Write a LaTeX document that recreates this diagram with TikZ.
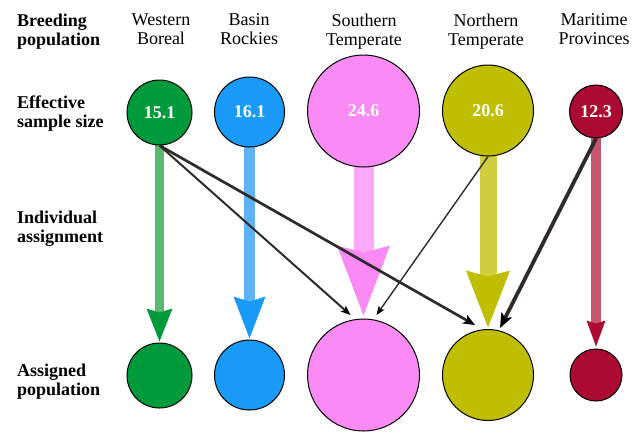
\documentclass[tikz,border=0pt]{standalone}
\usepackage{fontspec}
\setmainfont{Liberation Serif}
\usetikzlibrary{arrows.meta,calc,backgrounds}
\definecolor{wbc}{HTML}{009A3D}
\definecolor{brc}{HTML}{1A9AF8}
\definecolor{stc}{HTML}{FA8AF4}
\definecolor{ntc}{HTML}{BFBE00}
\definecolor{mpc}{HTML}{AB0A33}
\definecolor{wbs}{HTML}{5DB870}
\definecolor{brs}{HTML}{5DB2FA}
\definecolor{sts}{HTML}{FDA9F7}
\definecolor{nts}{HTML}{D0CD3F}
\definecolor{mps}{HTML}{C5566E}
\definecolor{linec}{HTML}{302A2A}
\begin{document}
\begin{tikzpicture}[x=1bp,y=-1bp,
  pop/.style={circle,draw=black,line width=1bp,inner sep=0pt,minimum size=#1},
  num/.style={text=white,font=\fontsize{18bp}{19bp}\selectfont\bfseries},
  rowlab/.style={anchor=north west,align=left,inner sep=0pt,font=\fontsize{18bp}{19bp}\selectfont\bfseries},
  colhead/.style={anchor=north,align=center,inner sep=0pt,font=\fontsize{18bp}{19bp}\selectfont},
  assign/.style={draw=linec}
]
\useasboundingbox (0,0) rectangle (641,431);

% row labels
\node[rowlab] (lab1) at (17,13.6) {Breeding\\population};
\node[rowlab] (lab2) at (17,95.6) {Effective\\sample size};
\node[rowlab] (lab3) at (17,210.6) {Individual\\assignment};
\node[rowlab] (lab4) at (17,363.6) {Assigned\\population};

% column headers
\node[colhead] (h1) at (161,13.8) {Western\\Boreal};
\node[colhead] (h2) at (249,13.8) {Basin\\Rockies};
\node[colhead] (h3) at (364,13.8) {Southern\\Temperate};
\node[colhead] (h4) at (486,13.8) {Northern\\Temperate};
\node[colhead] (h5) at (594,13.8) {Maritime\\Provinces};

% breeding populations
\node[pop=65bp,fill=wbc,num] (wbT) at (159.5,112.5) {15.1};
\node[pop=70bp,fill=brc,num] (brT) at (249.5,112) {16.1};
\node[pop=112bp,fill=stc,num] (stT) at (363.5,111) {24.6};
\node[pop=91bp,fill=ntc,num] (ntT) at (488,110.5) {20.6};
\node[pop=53bp,fill=mpc,num] (mpT) at (596,111.5) {12.3};

% assigned populations
\node[pop=65bp,fill=wbc] (wbB) at (159.5,375.5) {};
\node[pop=70bp,fill=brc] (brB) at (249.5,375) {};
\node[pop=112bp,fill=stc] (stB) at (363.5,375) {};
\node[pop=91bp,fill=ntc] (ntB) at (488,375) {};
\node[pop=52bp,fill=mpc] (mpB) at (596,375) {};

% self-assignment flows
\begin{scope}[on background layer]
\draw[line width=9bp,draw=wbs,-{Stealth[length=33bp,width=26bp,inset=4bp,line width=0pt,color=wbc]}]
  (wbT.center) -- ([yshift=1bp]wbB.north);
\draw[line width=11bp,draw=brs,-{Stealth[length=42bp,width=32bp,inset=5bp,line width=0pt,color=brc]}]
  (brT.center) -- ([yshift=1bp]brB.north);
\draw[line width=20bp,draw=sts,-{Stealth[length=70bp,width=53bp,inset=7bp,line width=0pt,color=stc]}]
  (stT.center) -- ([yshift=3bp]stB.north);
\draw[line width=17bp,draw=nts,-{Stealth[length=57bp,width=44bp,inset=6bp,line width=0pt,color=ntc]}]
  (ntT.center) -- ([yshift=1.5bp]ntB.north);
\draw[line width=10bp,draw=mps,-{Stealth[length=26bp,width=19bp,inset=3bp,line width=0pt,color=mpc]}]
  (mpT.center) -- ([yshift=2bp]mpB.north);
\end{scope}

% cross-assignments
\draw[assign,line width=2bp,-{Stealth[length=10bp,width=8bp,inset=2.5bp,line width=0pt,color=black]}]
  (wbT.south) -- ($(stB.center)+(-13,-60)$);
\draw[assign,line width=2.7bp,-{Stealth[length=12bp,width=10bp,inset=3bp,line width=0pt,color=black]}]
  (wbT.south) -- ($(ntB.center)+(-13,-50)$);
\draw[assign,line width=1.4bp,-{Stealth[length=9bp,width=7bp,inset=2bp,line width=0pt,color=black]}]
  (ntT.south) -- ($(stB.center)+(13,-60)$);
\draw[assign,line width=3.8bp,-{Stealth[length=15bp,width=12bp,inset=3.5bp,line width=0pt,color=black]}]
  (mpT.south) -- ($(ntB.center)+(12,-47)$);
\end{tikzpicture}
\end{document}
